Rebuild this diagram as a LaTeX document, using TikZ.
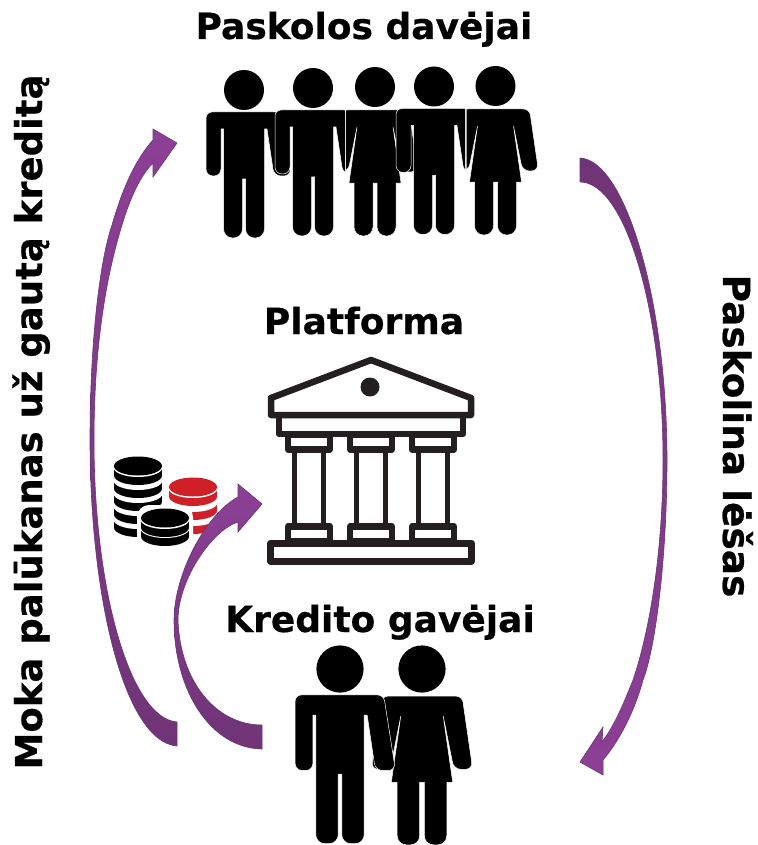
\documentclass[tikz,border=0pt]{standalone}
\usepackage{fontspec}
\setmainfont{DejaVu Sans}[BoldFeatures={FakeBold=0.5}]
\definecolor{flowdark}{HTML}{6F3476}
\definecolor{flowlight}{HTML}{8C4096}
\definecolor{flowedge}{HTML}{6A3577}
\definecolor{bankink}{HTML}{231F20}
\definecolor{coinred}{HTML}{CF2027}
\tikzset{
  titlelabel/.style={font=\bfseries\fontsize{36}{40}\selectfont,inner sep=0pt,anchor=base},
  personfig/.style={fill=black,draw=white,line width=0.5pt},
  flowup/.style={top color=flowlight,bottom color=flowdark,draw=flowedge,line width=0.6pt},
  flowdown/.style={top color=flowdark,bottom color=flowlight,draw=flowedge,line width=0.6pt},
  bankline/.style={draw=bankink,line width=6.5pt,line join=round},
  pics/manfig/.style={code={
    \clip (-60,-30) rectangle (#1,160);
    \fill (0,0) circle (20);
    \path[personfig] (0,22) [rounded corners=6] -- (37,22) [rounded corners=7] -- (47,86) -- (30,86) [sharp corners] -- (23,39)
      -- (20.5,39) [rounded corners=9] -- (20.5,148) -- (1.5,148) [sharp corners] -- (1.5,89) -- (-1.5,89)
      [rounded corners=9] -- (-1.5,148) -- (-20.5,148) [sharp corners] -- (-20.5,39) -- (-23,39)
      [rounded corners=7] -- (-23,86) -- (-38,86) [rounded corners=6] -- (-38,22) [sharp corners] -- cycle;
  }},
  pics/womanfig/.style={code={
    \clip (#1,-30) rectangle (60,160);
    \fill (0,0) circle (20);
    \path[personfig] (0,23) [rounded corners=6] -- (34,23) [rounded corners=7] -- (43,85) -- (27,85) [sharp corners] -- (18,40)
      -- (26,96) -- (21,96) [rounded corners=9] -- (21,149) -- (2,149) [sharp corners] -- (2,96) -- (-2,96)
      [rounded corners=9] -- (-2,149) -- (-21,149) [sharp corners] -- (-21,96) -- (-26,96) -- (-18,40)
      [rounded corners=7] -- (-27,85) -- (-43,85) [rounded corners=6] -- (-34,23) [sharp corners] -- cycle;
  }},
  pics/coinstack/.style n args={3}{code={
    % lowest band first, the next one covers its top
    \foreach \d in {#2,...,1} {
      \fill[#1] ({-24},{1.5+(\d-1)*#3}) rectangle (24,{1.5+(\d-1)*#3+8});
      \fill[#1] (0,{1.5+(\d-1)*#3+8}) ellipse (24 and 9.5);
      \fill[white] (0,{1.5+(\d-1)*#3}) ellipse (24.5 and 9.5);
    }
    \fill[#1] (0,0) ellipse (24 and 9.5);
  }},
  pics/pillar/.style={code={
    \draw[bankline] (-21,0) rectangle (21,15);
    \draw[draw=bankink,line width=5.5pt] (-14.5,15) -- (-14.5,92) (14.5,15) -- (14.5,92);
    \draw[bankline] (-21,92) rectangle (21,107);
  }}
}
\begin{document}
\begin{tikzpicture}[x=1pt,y=-1pt]
  \useasboundingbox (0,0) rectangle (757,845);
  % labels
  \node[titlelabel] (lenders) at (364,39) {Paskolos davėjai};
  \node[titlelabel] (platform) at (364,334) {Platforma};
  \node[titlelabel] (borrowers) at (380,632) {Kredito gavėjai};
  \node[titlelabel,rotate=-90,font=\bfseries\fontsize{37.5}{40}\selectfont] (lendtext) at (723,436) {Paskolina lėšas};
  \node[titlelabel,rotate=90,font=\bfseries\fontsize{37}{40}\selectfont] (paytext) at (42,422) {Moka palūkanas už gautą kreditą};
  % people on top
  \pic at (375,87) {womanfig=-29};
  \pic at (495.5,86) {womanfig=-29};
  \pic at (244,90) {manfig=60};
  \pic at (313,88) {manfig=32};
  \pic at (434,86.5) {manfig=31};
  % people below
  \pic[scale=1.18] at (422,669) {womanfig=-60};
  \pic[scale=1.18] at (340,669) {manfig=60};
  % bank
  \draw[bankline] (371,360) -- (471,398) -- (471,415) -- (271,415) -- (271,398) -- cycle;
  \fill[bankink] (370,387) circle (9.5);
  \draw[bankline] (279,415) rectangle (463,434);
  \pic at (309,434.5) {pillar};
  \pic at (371,434.5) {pillar};
  \pic at (433,434.5) {pillar};
  \draw[bankline,line width=7pt] (270.5,543) rectangle (471.5,561);
  % coins
  \pic at (193,487) {coinstack={coinred}{3}{14}};
  \pic at (138,466) {coinstack={black}{5}{13}};
  \fill[white,rounded corners=12] (137,505) rectangle (193,548);
  \pic at (165,518) {coinstack={black}{2}{9}};
  % arrows
  \path[flowup] (177,746) .. controls (125,742) and (90,600) .. (90,440)
    .. controls (90,340) and (100,260) .. (112,225) .. controls (122,190) and (135,160) .. (153,140)
    -- (153,129) -- (177,143) -- (153,177) -- (153,163)
    .. controls (138,178) and (128,205) .. (122,225) .. controls (108,270) and (94,340) .. (94,440)
    .. controls (94,590) and (130,718) .. (177,722) -- cycle;
  \path[flowup] (262,749) .. controls (210,748) and (174,690) .. (174,620)
    .. controls (174,575) and (205,515) .. (238,497) -- (238,484) -- (262,504) -- (238,532) -- (238,522)
    .. controls (212,530) and (178,580) .. (178,620) .. controls (180,680) and (215,725) .. (262,725) -- cycle;
  \path[flowdown] (580,158) .. controls (625,160) and (667,300) .. (667,460)
    .. controls (667,560) and (655,650) .. (643,680) .. controls (635,710) and (620,740) .. (603,760)
    -- (603,775) -- (580,762) -- (603,727) -- (602,742)
    .. controls (615,725) and (625,700) .. (633,680) .. controls (650,630) and (663,550) .. (663,460)
    .. controls (663,310) and (625,182) .. (580,182) -- cycle;
\end{tikzpicture}
\end{document}
